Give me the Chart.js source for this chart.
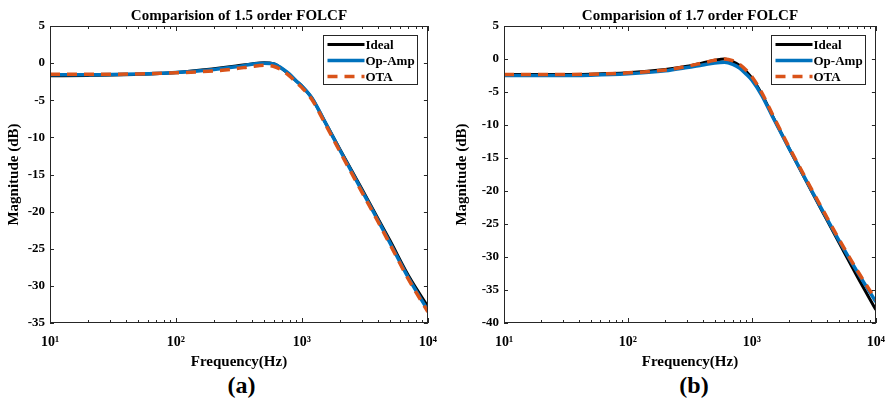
<!DOCTYPE html>
<html>
<head>
<meta charset="utf-8">
<script src="https://cdn.jsdelivr.net/npm/chart.js@4.4.1/dist/chart.umd.min.js"></script>
<style>
  body { margin: 0; background: #fff; }
  #wrap { position: relative; width: 896px; height: 405px; }
  .panel { position: absolute; top: 0; width: 448px; height: 405px; }
  .panel canvas { position: absolute; left: 0; top: 0; }
  .tag { position: absolute; top: 372px; height: 30px; line-height: 30px; text-align: center;
         font: bold 24px "Liberation Serif", serif; color: #000; }
</style>
</head>
<body>
<div id="wrap">
  <div class="panel" style="left:0"><canvas id="chartA" width="448" height="372"></canvas><div class="tag" style="left:50px;width:383px">(a)</div></div>
  <div class="panel" style="left:448px"><canvas id="chartB" width="448" height="372"></canvas><div class="tag" style="left:56px;width:380px">(b)</div></div>
</div>
<script>
// frequency points (Hz), shared by every curve
var freq = [10, 20, 50, 100, 200, 300, 400, 500, 600, 700, 800, 900, 1000, 1200, 1500, 2000, 3000, 4000, 5000, 7000, 10000];

// (a) 1.5 order, magnitude in dB
var idealA = [-1.7, -1.65, -1.5, -1.25, -0.75, -0.4, -0.1, 0.05, -0.1, -0.8, -1.6, -2.4, -3.1, -4.7, -7.7, -11.6, -17.0, -20.9, -23.9, -28.6, -32.8];
var opampA = [-1.55, -1.55, -1.45, -1.25, -0.85, -0.5, -0.15, 0.0, -0.1, -0.75, -1.5, -2.4, -3.1, -4.7, -7.7, -11.7, -17.2, -21.1, -24.2, -28.9, -33.3];
var otaA = [-1.5, -1.5, -1.45, -1.3, -1.05, -0.75, -0.45, -0.3, -0.45, -1.0, -1.75, -2.6, -3.3, -4.9, -7.9, -11.9, -17.4, -21.3, -24.4, -29.1, -33.5];

// (b) 1.7 order, magnitude in dB
var idealB = [-2.35, -2.35, -2.3, -2.1, -1.6, -1.1, -0.6, -0.2, 0.0, -0.4, -1.0, -1.9, -2.9, -5.3, -9.0, -13.6, -19.9, -24.3, -27.7, -32.8, -38.0];
var opampB = [-2.5, -2.5, -2.45, -2.25, -1.8, -1.3, -0.9, -0.6, -0.5, -0.8, -1.4, -2.3, -3.2, -5.5, -9.1, -13.6, -19.8, -24.1, -27.4, -32.1, -36.8];
var otaB = [-2.35, -2.35, -2.3, -2.1, -1.65, -1.1, -0.6, -0.2, 0.0, -0.25, -0.85, -1.7, -2.7, -5.1, -8.8, -13.4, -19.6, -23.9, -27.2, -31.9, -36.5];

// axis ticks
var xMajor = [10, 100, 1000, 10000];
var xLabels = ['10¹', '10²', '10³', '10⁴'];
var yRangeA = [-35, 5];
var yRangeB = [-40, 5];

var xTickValues = [];
for (var d = 0; d < 3; d++) {
  for (var m = 1; m < 10; m++) xTickValues.push(m * xMajor[d]);
}
xTickValues.push(10000);

var serif = '"Liberation Serif", "Times New Roman", serif';
var ink = '#262626';

function pts(values) {
  return freq.map(function(f, i) { return {x: f, y: values[i]}; });
}

// box, inward ticks and the legend inside the plot
var frame = {
  id: 'frame',
  afterDatasetsDraw: function(chart) {
    var a = chart.chartArea, ctx = chart.ctx;
    var xs = chart.scales.x, ys = chart.scales.y;
    ctx.save();
    ctx.strokeStyle = ink;
    ctx.lineWidth = 1;
    ctx.beginPath();
    xs.ticks.forEach(function(t) {
      var px = Math.round(xs.getPixelForValue(t.value)) + 0.5;
      var len = xMajor.indexOf(t.value) < 0 ? 3 : 5;
      ctx.moveTo(px, a.bottom); ctx.lineTo(px, a.bottom - len);
      ctx.moveTo(px, a.top); ctx.lineTo(px, a.top + len);
    });
    ys.ticks.forEach(function(t) {
      var py = Math.round(ys.getPixelForValue(t.value)) + 0.5;
      ctx.moveTo(a.left, py); ctx.lineTo(a.left + 4, py);
      ctx.moveTo(a.right, py); ctx.lineTo(a.right - 4, py);
    });
    ctx.stroke();
    ctx.strokeRect(Math.round(a.left) + 0.5, Math.round(a.top) + 0.5,
      Math.round(a.right - a.left) - 1, Math.round(a.bottom - a.top) - 1);

    // legend
    var bx = Math.round(a.right) - 104.5, by = Math.round(a.top) + 9.5, bw = 94, bh = 49;
    ctx.fillStyle = '#fff';
    ctx.fillRect(bx, by, bw, bh);
    ctx.strokeStyle = ink;
    ctx.lineWidth = 1;
    ctx.strokeRect(bx, by, bw, bh);
    ctx.font = 'bold 13px ' + serif;
    ctx.textBaseline = 'middle';
    chart.data.datasets.forEach(function(ds, i) {
      var ry = by + 9 + i * 16;
      ctx.beginPath();
      ctx.strokeStyle = ds.borderColor;
      ctx.lineWidth = ds.borderWidth;
      ctx.setLineDash(ds.borderDash || []);
      ctx.moveTo(bx + 4, ry); ctx.lineTo(bx + 41, ry);
      ctx.stroke();
      ctx.setLineDash([]);
      ctx.fillStyle = '#000';
      ctx.fillText(ds.label, bx + 42, ry + 1);
    });
    ctx.restore();
  }
};

function makeChart(id, title, ideal, opamp, ota, yRange, yWidth, padRight) {
  var ctx = document.getElementById(id).getContext('2d');
  return new Chart(ctx, {
    type: 'line',
    data: {
      datasets: [
        {label: 'Ideal', data: pts(ideal), borderColor: '#000000', borderWidth: 3, order: 3},
        {label: 'Op-Amp', data: pts(opamp), borderColor: '#0072BD', borderWidth: 3.5, order: 2},
        {label: 'OTA', data: pts(ota), borderColor: '#D95319', borderWidth: 3.5, borderDash: [10, 7], order: 1}
      ]
    },
    options: {
      responsive: false,
      animation: false,
      elements: {
        point: {radius: 0},
        line: {cubicInterpolationMode: 'monotone', fill: false}
      },
      layout: {padding: {top: 1, right: padRight, bottom: 0, left: 0}},
      plugins: {
        legend: {display: false},
        tooltip: {enabled: false},
        title: {
          display: true, text: title, fullSize: false, color: '#000',
          font: {family: serif, size: 15, weight: 'bold'},
          padding: {top: 6, bottom: 1}
        }
      },
      scales: {
        x: {
          type: 'logarithmic', min: 10, max: 10000,
          grid: {display: false, drawTicks: false},
          border: {display: false},
          afterBuildTicks: function(s) {
            s.ticks = xTickValues.map(function(v) { return {value: v}; });
          },
          afterFit: function(s) { s.height = 49; },
          ticks: {
            autoSkip: false, maxRotation: 0, padding: 11, color: '#000',
            font: {family: serif, size: 14, weight: 'bold'},
            callback: function(v) {
              var i = xMajor.indexOf(v);
              return i < 0 ? '' : xLabels[i];
            }
          },
          title: {
            display: true, text: 'Frequency(Hz)', color: '#000',
            font: {family: serif, size: 15, weight: 'bold'},
            padding: {top: 0, bottom: 1}
          }
        },
        y: {
          min: yRange[0], max: yRange[1],
          grid: {display: false, drawTicks: false},
          border: {display: false},
          afterFit: function(s) { s.width = yWidth; },
          ticks: {
            stepSize: 5, padding: 5, color: '#000',
            font: {family: serif, size: 13, weight: 'bold'}
          },
          title: {
            display: true, text: 'Magnitude (dB)', color: '#000',
            font: {family: serif, size: 15, weight: 'bold'},
            padding: {top: 5, bottom: 0}
          }
        }
      }
    },
    plugins: [frame]
  });
}

makeChart('chartA', 'Comparision of 1.5 order FOLCF', idealA, opampA, otaA, yRangeA, 50, 15);
makeChart('chartB', 'Comparision of 1.7 order FOLCF', idealB, opampB, otaB, yRangeB, 56, 12);
</script>
</body>
</html>
